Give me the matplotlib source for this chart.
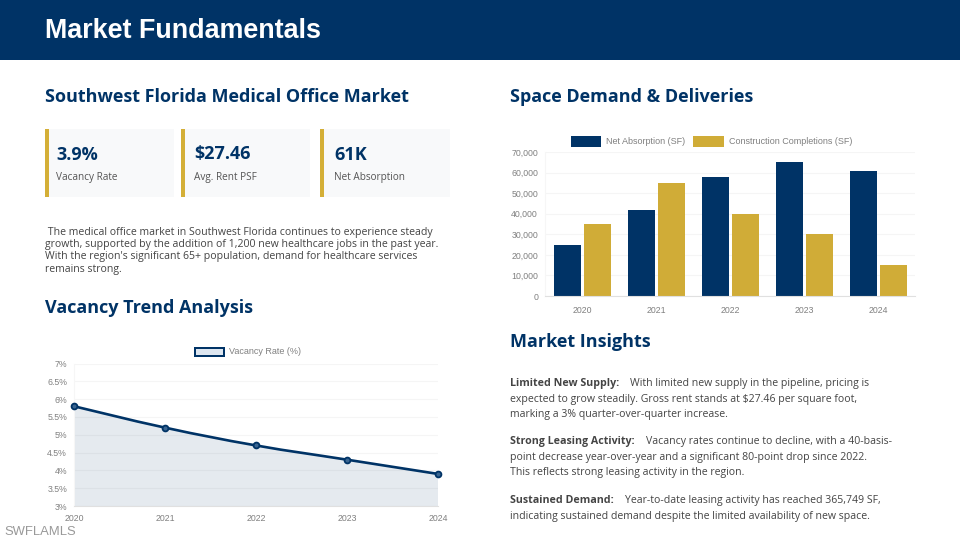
import matplotlib
matplotlib.use("Agg")
import matplotlib.pyplot as plt
from matplotlib.patches import Rectangle, PathPatch
from matplotlib.path import Path
from matplotlib.ticker import FixedLocator, FuncFormatter

NAVY = "#003366"
GOLD = "#D4AF37"
W, H = 960, 540

years = ["2020", "2021", "2022", "2023", "2024"]
net_absorption = [25000, 42000, 58000, 65000, 61000]
completions = [35000, 55000, 40000, 30000, 15000]
vacancy = [5.8, 5.2, 4.7, 4.3, 3.9]
bar_ticks = [0, 10000, 20000, 30000, 40000, 50000, 60000, 70000]
vac_ticks = [3, 3.5, 4, 4.5, 5, 5.5, 6, 6.5, 7]
kpi_values = ["3.9%", "$27.46", "61K"]
kpi_labels = ["Vacancy Rate", "Avg. Rent PSF", "Net Absorption"]
intro_lines = [
    " The medical office market in Southwest Florida continues to experience steady",
    "growth, supported by the addition of 1,200 new healthcare jobs in the past year.",
    "With the region's significant 65+ population, demand for healthcare services",
    "remains strong.",
]
insights = [
    ("Limited New Supply:", "With limited new supply in the pipeline, pricing is",
     ["expected to grow steadily. Gross rent stands at $27.46 per square foot,",
      "marking a 3% quarter-over-quarter increase."], 383.5),
    ("Strong Leasing Activity:", "Vacancy rates continue to decline, with a 40-basis-",
     ["point decrease year-over-year and a significant 80-point drop since 2022.",
      "This reflects strong leasing activity in the region."], 441.5),
    ("Sustained Demand:", "Year-to-date leasing activity has reached 365,749 SF,",
     ["indicating sustained demand despite the limited availability of new space."], 500.5),
]

fig = plt.figure(figsize=(W / 100, H / 100), dpi=100, facecolor="white")
plt.rcParams["font.family"] = ["Open Sans", "DejaVu Sans"]

page = fig.add_axes([0, 0, 1, 1], zorder=0)
page.set_xlim(0, W)
page.set_ylim(H, 0)
page.axis("off")

def box(x, y, w, h, color):
    page.add_patch(Rectangle((x, y), w, h, facecolor=color, edgecolor="none"))

def text(x, y, s, size, color="#333333", weight="normal", family=None, **kw):
    return page.text(x, y, s, fontsize=size, color=color, fontweight=weight,
                     va="center", ha=kw.pop("ha", "left"),
                     family=family or ["Open Sans", "DejaVu Sans"], **kw)

def axes_px(x0, y0, x1, y1):
    return fig.add_axes([x0 / W, 1 - y1 / H, (x1 - x0) / W, (y1 - y0) / H], zorder=1)

box(0, 0, W, 60, NAVY)
text(45, 30.5, "Market Fundamentals", 19.4, "white", "bold", family=["Liberation Sans"])

for x, y, s in [(45, 97, "Southwest Florida Medical Office Market"),
                (510, 97, "Space Demand & Deliveries"),
                (45, 308, "Vacancy Trend Analysis"),
                (510, 342, "Market Insights")]:
    text(x, y, s, 13.0, NAVY, "bold")

for x, w, tx, val, lab in zip([45, 181, 320], [129, 129, 130], [56, 194, 334], kpi_values, kpi_labels):
    box(x, 129, w, 68, "#F8F9FA")
    box(x, 129, 4, 68, GOLD)
    text(tx, 154.5, val, 13, NAVY, "bold")
    text(tx, 177.5, lab, 7.2, "#555555")

for i, line in enumerate(intro_lines):
    text(45, 232 + i * 12.5, line, 7.55, "#444444")

for head, first, rest, y in insights:
    t = text(510, y, head, 7.65, "#444444", "bold")
    end = t.get_window_extent(fig.canvas.get_renderer()).x1
    text(end + 11, y, first, 7.55, "#444444")
    for j, line in enumerate(rest):
        text(510, y + (j + 1) * 15.7, line, 7.52, "#444444")

text(4, 532, "SWFLAMLS", 9.4, "#999999", family=["Liberation Sans"])

def style(ax):
    for s in ["top", "right"]:
        ax.spines[s].set_visible(False)
    ax.spines["left"].set_color("#F6F6F6")
    ax.spines["bottom"].set_color("#E0E0E0")
    ax.grid(axis="y", color="#F5F5F5", linewidth=0.8)
    ax.set_axisbelow(True)
    ax.tick_params(length=0, labelsize=6.3, labelcolor="#808080", pad=5)
    for lab in ax.get_xticklabels() + ax.get_yticklabels():
        lab.set_fontfamily("Liberation Sans")
    ax.patch.set_alpha(0)

# bar chart
ax = axes_px(545, 152, 915, 296)
xs = range(len(years))
bw = 0.362
ax.bar([x - 0.2 for x in xs], net_absorption, bw, color=NAVY, label="Net Absorption (SF)")
ax.bar([x + 0.205 for x in xs], completions, bw, color="#D0AC37", label="Construction Completions (SF)")
ax.set_xlim(-0.5, 4.5)
ax.set_ylim(0, 70000)
ax.set_xticks(list(xs), years)
ax.yaxis.set_major_locator(FixedLocator(bar_ticks))
ax.yaxis.set_major_formatter(FuncFormatter(lambda v, _: f"{int(v):,}"))
style(ax)
ax.tick_params(axis="x", pad=7)
ax.grid(axis="x", visible=False)
ax.legend(loc="lower center", bbox_to_anchor=(0.45, 1.012), ncol=2, frameon=False,
          labelcolor="#808080", handlelength=3.4, handleheight=1.4,
          handletextpad=0.55, columnspacing=0.9, borderaxespad=0.0,
          prop={"family": "Liberation Sans", "size": 6.5})

# line chart
ax = axes_px(74, 363.5, 438, 506)
xv = list(range(len(years)))
n = len(xv)
tension = 0.4
verts = [(xv[0], vacancy[0])]
codes = [Path.MOVETO]
for i in range(n - 1):
    p0 = (xv[max(i - 1, 0)], vacancy[max(i - 1, 0)])
    p1 = (xv[i], vacancy[i])
    p2 = (xv[i + 1], vacancy[i + 1])
    p3 = (xv[min(i + 2, n - 1)], vacancy[min(i + 2, n - 1)])
    c1 = (p1[0] + (p2[0] - p0[0]) * tension / 2, p1[1] + (p2[1] - p0[1]) * tension / 2)
    c2 = (p2[0] - (p3[0] - p1[0]) * tension / 2, p2[1] - (p3[1] - p1[1]) * tension / 2)
    verts += [c1, c2, p2]
    codes += [Path.CURVE4] * 3
fill_verts = verts + [(xv[-1], 3), (xv[0], 3), verts[0]]
fill_codes = codes + [Path.LINETO, Path.LINETO, Path.CLOSEPOLY]
ax.add_patch(PathPatch(Path(fill_verts, fill_codes), facecolor=NAVY, alpha=0.1,
                       edgecolor="none", zorder=2))
ax.add_patch(PathPatch(Path(verts, codes), facecolor="none", edgecolor=NAVY,
                       linewidth=1.9, zorder=3))
ax.plot(xv, vacancy, "o", color=NAVY, markersize=4.2, markerfacecolor="#3A6591",
        markeredgecolor=NAVY, markeredgewidth=1.3, clip_on=False, zorder=4)
ax.set_xlim(0, 4)
ax.set_ylim(3, 7)
ax.set_xticks(xv, years)
ax.yaxis.set_major_locator(FixedLocator(vac_ticks))
ax.yaxis.set_major_formatter(FuncFormatter(lambda v, _: f"{v:g}%"))
style(ax)
ax.tick_params(axis="x", pad=6)
ax.grid(axis="x", visible=False)

# legend swatch for the line chart, placed in page pixels
box(193.5, 346.5, 31.5, 10.5, NAVY)
box(195.5, 348.5, 27.5, 6.5, "#DDE6F0")
text(229, 351.5, "Vacancy Rate (%)", 6.5, "#808080", family=["Liberation Sans"])

fig.savefig("out.png", dpi=100)
